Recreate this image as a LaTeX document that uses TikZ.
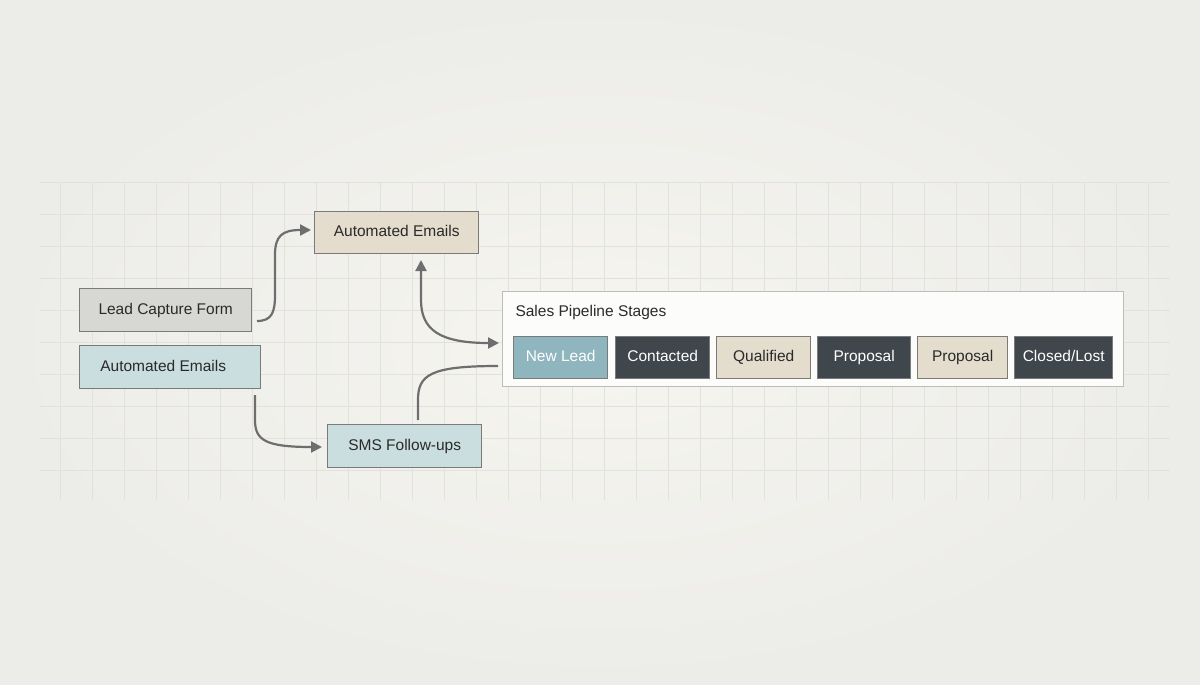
\documentclass[tikz,border=0pt]{standalone}
\usepackage{fontspec}
\setmainfont{Liberation Sans}
\usetikzlibrary{arrows.meta}
\definecolor{bg}{HTML}{ECECE9}
\definecolor{bgc}{HTML}{F6F5EF}
\definecolor{gridc}{HTML}{E2E2DC}
\definecolor{tan}{HTML}{E4DCCD}
\definecolor{greyb}{HTML}{D7D7D4}
\definecolor{blueb}{HTML}{CADDDF}
\definecolor{teal}{HTML}{8FB5BE}
\definecolor{dark}{HTML}{3F474C}
\definecolor{edge}{HTML}{7A7A78}
\definecolor{arr}{HTML}{6E6E6E}
\definecolor{txt}{HTML}{2A2A2A}
\tikzset{
  box/.style={draw=edge, line width=1.4pt, anchor=north west, inner sep=0pt, font=\fontsize{15.5}{18}\selectfont, text height=11pt, text depth=3pt, text=txt},
  conn/.style={draw=arr, line width=2.2pt, -{Triangle[length=11pt,width=11pt]}},
  plain/.style={draw=arr, line width=2.2pt},
}
\begin{document}
\begin{tikzpicture}[x=1pt,y=-1pt]
\useasboundingbox (0,0) rectangle (1200,685);
\fill[bg] (0,0) rectangle (1200,685);
\shade[inner color=bgc, outer color=bg] (0,0) rectangle (1200,685);
\foreach \x in {60,92,...,1170} \draw[gridc, line width=0.6pt] (\x,182) -- (\x,500);
\foreach \y in {182,214,...,500} \draw[gridc, line width=0.6pt] (40,\y) -- (1170,\y);

\node[box, fill=tan, minimum width=164pt, minimum height=42pt] (ae) at (314,211) {Automated Emails};
\node[box, fill=greyb, minimum width=172pt, minimum height=43pt] (lc) at (79,288) {Lead Capture Form};
\node[box, fill=blueb, minimum width=181pt, minimum height=43pt] (ab) at (79,345) {\hspace*{-14pt}Automated Emails};
\node[box, fill=blueb, minimum width=154pt, minimum height=43pt] (sms) at (327,424) {SMS Follow-ups};

\node[draw=edge!50, line width=1pt, fill=white!70!bgc, anchor=north west, minimum width=621pt, minimum height=95pt, inner sep=0pt] (pipe) at (502,291) {};
\node[anchor=west, font=\fontsize{15.5}{18}\selectfont, text=txt] (title) at (512,312) {Sales Pipeline Stages};

\tikzset{st/.style={box, minimum height=42pt}}
\node[st, fill=teal, text=white, minimum width=94pt] (s1) at (513,336) {New Lead};
\node[st, fill=dark, text=white, minimum width=94pt] (s2) at (615,336) {Contacted};
\node[st, fill=tan, minimum width=94pt] (s3) at (716,336) {Qualified};
\node[st, fill=dark, text=white, minimum width=93pt] (s4) at (817,336) {Proposal};
\node[st, fill=tan, minimum width=90pt] (s5) at (917,336) {Proposal};
\node[st, fill=dark, text=white, minimum width=98pt] (s6) at (1014,336) {Closed/Lost};

\coordinate (lcR) at (257,321);
\coordinate (aeL) at (311,230);
\coordinate (aeB) at (421,260);
\coordinate (pU) at (499,343);
\coordinate (abB) at (255,395);
\coordinate (smsL) at (322,447);
\coordinate (smsT) at (418,420);
\coordinate (pD) at (498,366);
\draw[conn] (lcR) .. controls (272,321) and (275,312) .. (275,295) -- (275,255) .. controls (275,236) and (282,230) .. (aeL);
\draw[conn, {Triangle[length=11pt,width=11pt]}-{Triangle[length=11pt,width=11pt]}] (aeB) -- (421,300) .. controls (421,330) and (440,343) .. (pU);
\draw[conn] (abB) -- (255,420) .. controls (255,440) and (265,447) .. (smsL);
\draw[plain] (smsT) -- (418,400) .. controls (418,375) and (430,366) .. (pD);
\end{tikzpicture}
\end{document}
